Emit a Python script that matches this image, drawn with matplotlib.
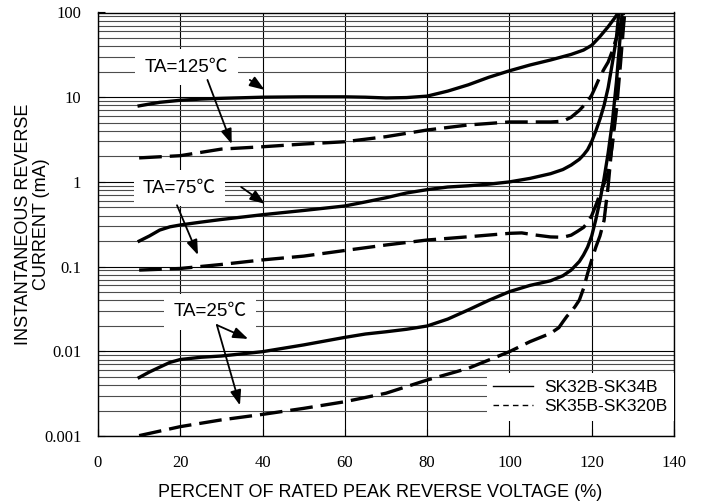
import matplotlib
matplotlib.use("Agg")
import matplotlib.pyplot as plt
from matplotlib.lines import Line2D

# --- data ---
s125_x = [10, 12.5, 15, 20, 25, 30, 40, 50, 60, 65, 70, 75, 80, 85, 90, 95, 100, 105, 110,
          115, 118, 120, 122, 124, 125.5, 126.5]
s125_y = [7.9, 8.3, 8.7, 9.2, 9.5, 9.7, 10.0, 10.1, 10.1, 10.0, 9.8, 9.9, 10.3, 11.8, 14.0, 17.2,
          20.5, 24, 27.5, 32, 36, 41, 52, 68, 85, 100]

d125_x = [10, 20, 30, 40, 50, 60, 70, 80, 90, 100, 110, 113, 115, 117, 119, 120, 121, 122, 123,
          124, 125, 126, 127, 127.8]
d125_y = [1.92, 2.04, 2.44, 2.6, 2.8, 2.98, 3.42, 4.1, 4.7, 5.1, 5.1, 5.2, 5.8, 7.0, 8.9, 10.6,
          13.5, 17.5, 21.5, 26, 35, 50, 72, 100]

s75_x = [10, 12.5, 15, 17.5, 20, 25, 30, 40, 50, 60, 65, 70, 75, 80, 85, 90, 95, 100, 105, 110,
         113, 115, 117, 118, 119, 120, 121, 122, 123, 124, 125, 126, 126.6]
s75_y = [0.2, 0.23, 0.27, 0.295, 0.31, 0.335, 0.36, 0.41, 0.46, 0.52, 0.58, 0.65, 0.74, 0.81,
         0.87, 0.9, 0.94, 1.0, 1.1, 1.25, 1.4, 1.58, 1.85, 2.08, 2.4, 3.0, 4.0, 5.5, 8.0, 13, 25,
         50, 100]

d75_x = [10, 20, 30, 40, 50, 60, 70, 80, 90, 100, 103, 106, 110, 113, 115, 116.5, 118, 119, 120,
         121.2, 122, 123, 124, 125, 126, 127, 128]
d75_y = [0.091, 0.095, 0.106, 0.12, 0.133, 0.155, 0.18, 0.206, 0.225, 0.247, 0.25, 0.237, 0.224,
         0.222, 0.235, 0.26, 0.29, 0.33, 0.4, 0.56, 0.72, 0.95, 1.3, 2.7, 7, 25, 100]

s25_x = [10, 12.5, 15, 17.5, 20, 25, 30, 40, 50, 60, 65, 70, 75, 80, 85, 90, 95, 100, 105, 110,
         113, 115, 117, 118, 119, 120, 121, 122, 123, 124, 125, 126, 127.4]
s25_y = [0.0049, 0.0057, 0.0065, 0.0074, 0.008, 0.0085, 0.0088, 0.0099, 0.0119, 0.0146, 0.016,
         0.017, 0.0182, 0.0199, 0.024, 0.0308, 0.04, 0.0506, 0.06, 0.068, 0.078, 0.091, 0.115,
         0.137, 0.17, 0.23, 0.36, 0.6, 1.1, 2.2, 5, 15, 100]

d25_x = [10, 20, 30, 40, 50, 60, 70, 80, 90, 100, 105, 110, 112, 113, 114, 115, 116, 117, 118,
         119, 120, 121, 122, 123, 124, 125, 126, 127, 128]
d25_y = [0.00101, 0.00129, 0.00155, 0.0018, 0.00212, 0.00254, 0.0032, 0.00458, 0.0063, 0.0099,
         0.013, 0.0163, 0.019, 0.0223, 0.026, 0.0293, 0.034, 0.0403, 0.055, 0.083, 0.12, 0.17,
         0.23, 0.35, 0.9, 3, 12, 40, 100]

x_ticks = [0, 20, 40, 60, 80, 100, 120, 140]
y_ticks = [0.001, 0.01, 0.1, 1, 10, 100]
y_tick_labels = ["0.001", "0.01", "0.1", "1", "10", "100"]

# label text, label position, arrows (start, tip)
etiquetas = [
    ("TA=125℃", (21.5, 22.7), [((36.9, 16.0), (40.5, 12.2)), ((26.6, 16.0), (32.5, 2.8))]),
    ("TA=75℃", (19.8, 0.84), [((34.8, 0.87), (40.6, 0.55)), ((19.2, 0.53), (24.3, 0.137))]),
    ("TA=25℃", (27.2, 0.0293), [((28.9, 0.0204), (36.5, 0.014)), ((28.9, 0.0204), (34.5, 0.0023))]),
]

leyenda = ["SK32B-SK34B", "SK35B-SK320B"]

sans = ["Liberation Sans", "Noto Sans CJK SC", "DejaVu Sans"]
serif = "Liberation Serif"
plt.rcParams["font.family"] = sans

# --- figure ---
fig = plt.figure(figsize=(7.03, 5.04), dpi=100)
ax = fig.add_axes([98 / 703, 68 / 504, 576 / 703, 423.5 / 504])

ax.set_yscale("log")
ax.set_xlim(0, 140)
ax.set_ylim(0.001, 100)

# grid
ax.set_xticks(x_ticks)
ax.set_yticks(y_ticks)
ax.set_yticklabels(y_tick_labels)
ax.grid(True, which="major", color="black", lw=0.8)
ax.grid(True, which="minor", axis="y", color="0.3", lw=0.8)
ax.set_axisbelow(True)

ax.tick_params(axis="both", which="major", labelsize=12, labelfontfamily=serif)
ax.tick_params(axis="x", which="both", direction="in", length=5, pad=14)
ax.tick_params(axis="y", which="major", direction="in", length=5, pad=12)
ax.tick_params(axis="y", which="minor", length=0)
for s in ax.spines.values():
    s.set_linewidth(1.0)

# curves
lw = 2.4
dash = (0, (6.8, 2.4))
ax.plot(s125_x, s125_y, color="black", lw=lw, solid_joinstyle="round")
ax.plot(d125_x, d125_y, color="black", lw=lw, linestyle=dash)
ax.plot(s75_x, s75_y, color="black", lw=lw, solid_joinstyle="round")
ax.plot(d75_x, d75_y, color="black", lw=lw, linestyle=dash)
ax.plot(s25_x, s25_y, color="black", lw=lw, solid_joinstyle="round")
ax.plot(d25_x, d25_y, color="black", lw=lw, linestyle=dash)

# temperature labels with arrows
for texto, pos, flechas in etiquetas:
    ax.text(pos[0], pos[1], texto, ha="center", va="center", fontsize=13.5,
            bbox=dict(boxstyle="square,pad=0.5", facecolor="white", edgecolor="none"), zorder=4)
    for ini, fin in flechas:
        ax.annotate("", xy=fin, xytext=ini, zorder=5,
                    arrowprops=dict(arrowstyle="-|>,head_length=0.9,head_width=0.33",
                                    color="black", lw=1.3, shrinkA=0, shrinkB=0))

# legend
handles = [Line2D([], [], color="black", lw=1.0),
           Line2D([], [], color="black", lw=1.0, linestyle=(0, (4, 3)))]
leg = ax.legend(handles, leyenda, loc="lower right", bbox_to_anchor=(1.0, 0.035),
                frameon=True, fancybox=False, facecolor="white", edgecolor="none",
                framealpha=1, borderaxespad=0, handlelength=2.3, handletextpad=0.6,
                borderpad=0.4, labelspacing=0.25, fontsize=12.5)
leg.set_zorder(6)

ax.set_xlabel("PERCENT OF RATED PEAK REVERSE VOLTAGE (%)", fontsize=13)
ax.set_ylabel("INSTANTANEOUS REVERSE\nCURRENT (mA)", fontsize=13, linespacing=1.1)
ax.xaxis.set_label_coords(0.49, -0.113)
ax.yaxis.set_label_coords(-0.083, 0.5)

fig.savefig("out.png", dpi=100)
